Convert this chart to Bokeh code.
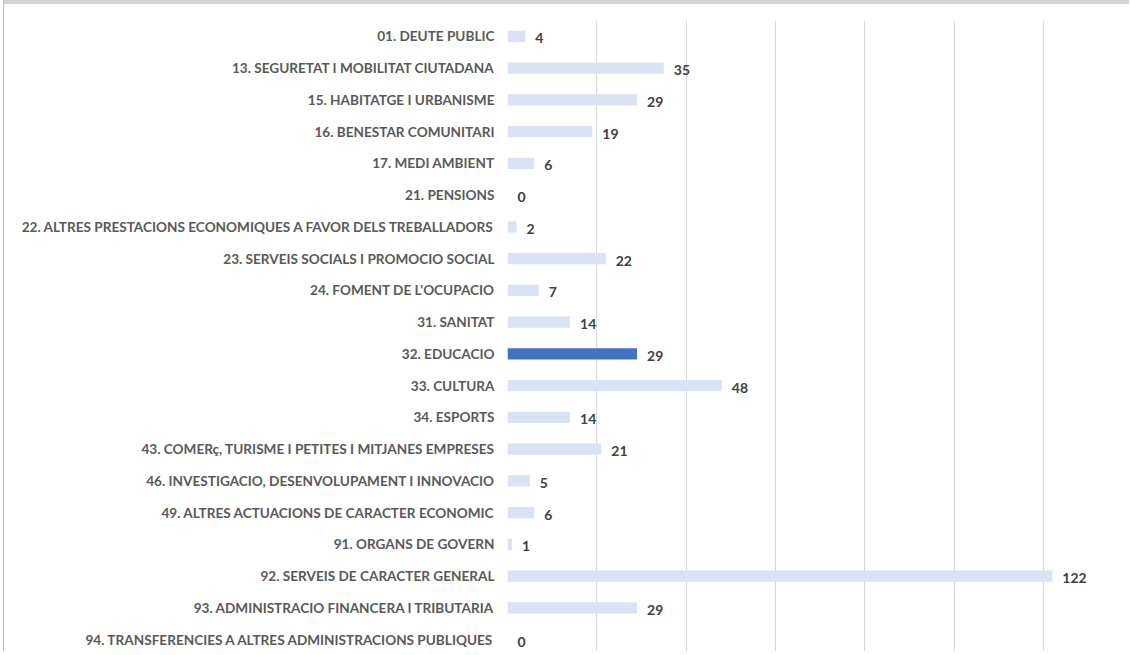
from bokeh.plotting import figure
from bokeh.models import ColumnDataSource, FactorRange, Range1d, SingleIntervalTicker
from bokeh.embed import file_html
from bokeh.resources import INLINE
from bokeh.core.properties import value

categories = [
    "01. DEUTE PUBLIC",
    "13. SEGURETAT I MOBILITAT CIUTADANA",
    "15. HABITATGE I URBANISME",
    "16. BENESTAR COMUNITARI",
    "17. MEDI AMBIENT",
    "21. PENSIONS",
    "22. ALTRES PRESTACIONS ECONOMIQUES A FAVOR DELS TREBALLADORS",
    "23. SERVEIS SOCIALS I PROMOCIO SOCIAL",
    "24. FOMENT DE L'OCUPACIO",
    "31. SANITAT",
    "32. EDUCACIO",
    "33. CULTURA",
    "34. ESPORTS",
    "43. COMERç, TURISME I PETITES I MITJANES EMPRESES",
    "46. INVESTIGACIO, DESENVOLUPAMENT I INNOVACIO",
    "49. ALTRES ACTUACIONS DE CARACTER ECONOMIC",
    "91. ORGANS DE GOVERN",
    "92. SERVEIS DE CARACTER GENERAL",
    "93. ADMINISTRACIO FINANCERA I TRIBUTARIA",
    "94. TRANSFERENCIES A ALTRES ADMINISTRACIONS PUBLIQUES",
]
values = [4, 35, 29, 19, 6, 0, 2, 22, 7, 14, 29, 48, 14, 21, 5, 6, 1, 122, 29, 0]
highlight = "32. EDUCACIO"

colors = ["#4472C4" if c == highlight else "#DAE3F3" for c in categories]
src = ColumnDataSource(dict(cat=categories, val=values, color=colors,
                            lbl=[str(v) for v in values]))

p = figure(width=1126, height=651, output_backend="svg", toolbar_location=None,
           y_range=FactorRange(factors=list(reversed(categories))),
           x_range=Range1d(0, 139.5))
p.styles = {"border-top": "4px solid #D4D4D4", "border-left": "1px solid #BFBFBF",
            "margin-left": "3px"}
p.min_border_left = 503
p.min_border_right = 0
p.min_border_top = 16
p.min_border_bottom = 0
p.outline_line_color = None
p.background_fill_color = "white"
p.border_fill_color = "white"

p.hbar(y="cat", right="val", left=0, height=0.36, fill_color="color",
       line_color=None, source=src)
p.text(x="val", y="cat", text="lbl", source=src, x_offset=10, y_offset=2,
       text_align="left", text_baseline="middle",
       text_font=value("Lato"), text_font_style="bold", text_font_size="14px",
       text_color="#404040")

p.xaxis.visible = False
p.xaxis.ticker = SingleIntervalTicker(interval=20)
p.xgrid.ticker = SingleIntervalTicker(interval=20)
p.xgrid.grid_line_color = "#D9D9D9"
p.xgrid.grid_line_width = 1
p.ygrid.grid_line_color = None

ya = p.yaxis[0]
ya.axis_line_color = None
ya.major_tick_line_color = None
ya.minor_tick_line_color = None
ya.major_tick_out = 0
ya.major_label_standoff = 13
ya.major_label_text_font = "Lato"
ya.major_label_text_font_style = "bold"
ya.major_label_text_font_size = "13.6px"
ya.major_label_text_color = "#595959"

open("out.html", "w").write(file_html(p, INLINE))
